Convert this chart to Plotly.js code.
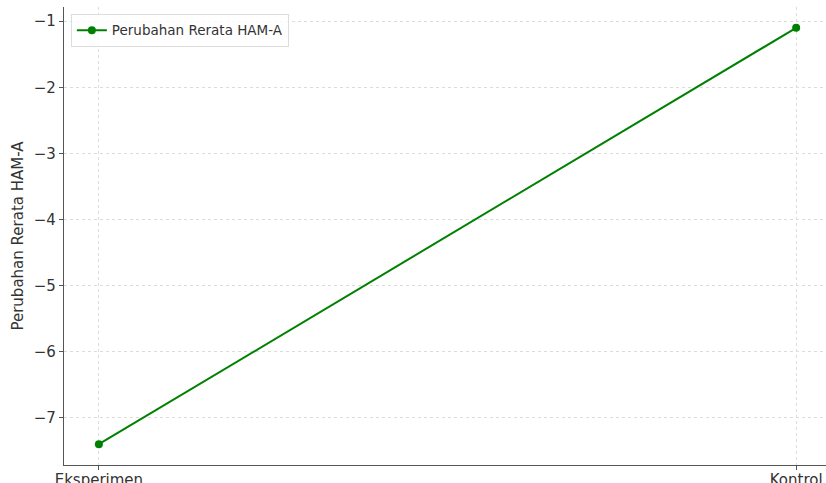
<!DOCTYPE html>
<html>
<head>
<meta charset="utf-8">
<script src="https://cdn.plot.ly/plotly-3.0.1.min.js"></script>
<style>html,body{margin:0;padding:0;background:#fff;}#chart{width:826px;height:483px;}</style>
</head>
<body>
<div id="chart"></div>
<script>
const categories = ["Eksperimen", "Kontrol"];
const values = [-7.4, -1.1];
const seriesName = "Perubahan Rerata HAM-A";
const yTickVals = [-7, -6, -5, -4, -3, -2, -1];

const trace = {
  x: [0, 1],
  y: values,
  type: "scatter",
  mode: "lines+markers",
  name: seriesName,
  line: {color: "#008000", width: 2},
  marker: {color: "#008000", size: 8}
};

const layout = {
  width: 826, height: 483,
  margin: {l: 64, r: 0, t: 7, b: 18},
  paper_bgcolor: "#fff", plot_bgcolor: "#fff",
  font: {family: "DejaVu Sans", color: "#333", size: 15},
  showlegend: true,
  legend: {
    x: 0.009, y: 0.985, xanchor: "left", yanchor: "top",
    bgcolor: "rgba(255,255,255,0.8)", bordercolor: "#ddd", borderwidth: 1,
    font: {family: "DejaVu Sans", size: 13.5, color: "#333"}
  },
  xaxis: {
    range: [-0.05, 1.0428],
    tickvals: [0, 1], ticktext: categories,
    showline: true, linecolor: "#555", linewidth: 1.2, mirror: false,
    ticks: "outside", ticklen: 4, tickcolor: "#555",
    ticklabelstandoff: -3,
    showgrid: true, gridcolor: "#dcdcdc", griddash: "dot", gridwidth: 1,
    zeroline: false,
    tickfont: {size: 15, color: "#333"}
  },
  yaxis: {
    range: [-7.715, -0.785],
    tickvals: yTickVals,
    showline: true, linecolor: "#555", linewidth: 1.2, mirror: false,
    ticks: "outside", ticklen: 4, tickcolor: "#555",
    showgrid: true, gridcolor: "#dcdcdc", griddash: "dot", gridwidth: 1,
    zeroline: false,
    tickfont: {size: 15, color: "#333"},
    title: {text: "Perubahan Rerata HAM-A", font: {size: 15, color: "#333"}, standoff: 6}
  }
};

Plotly.newPlot("chart", [trace], layout, {displayModeBar: false, staticPlot: true});
</script>
</body>
</html>
